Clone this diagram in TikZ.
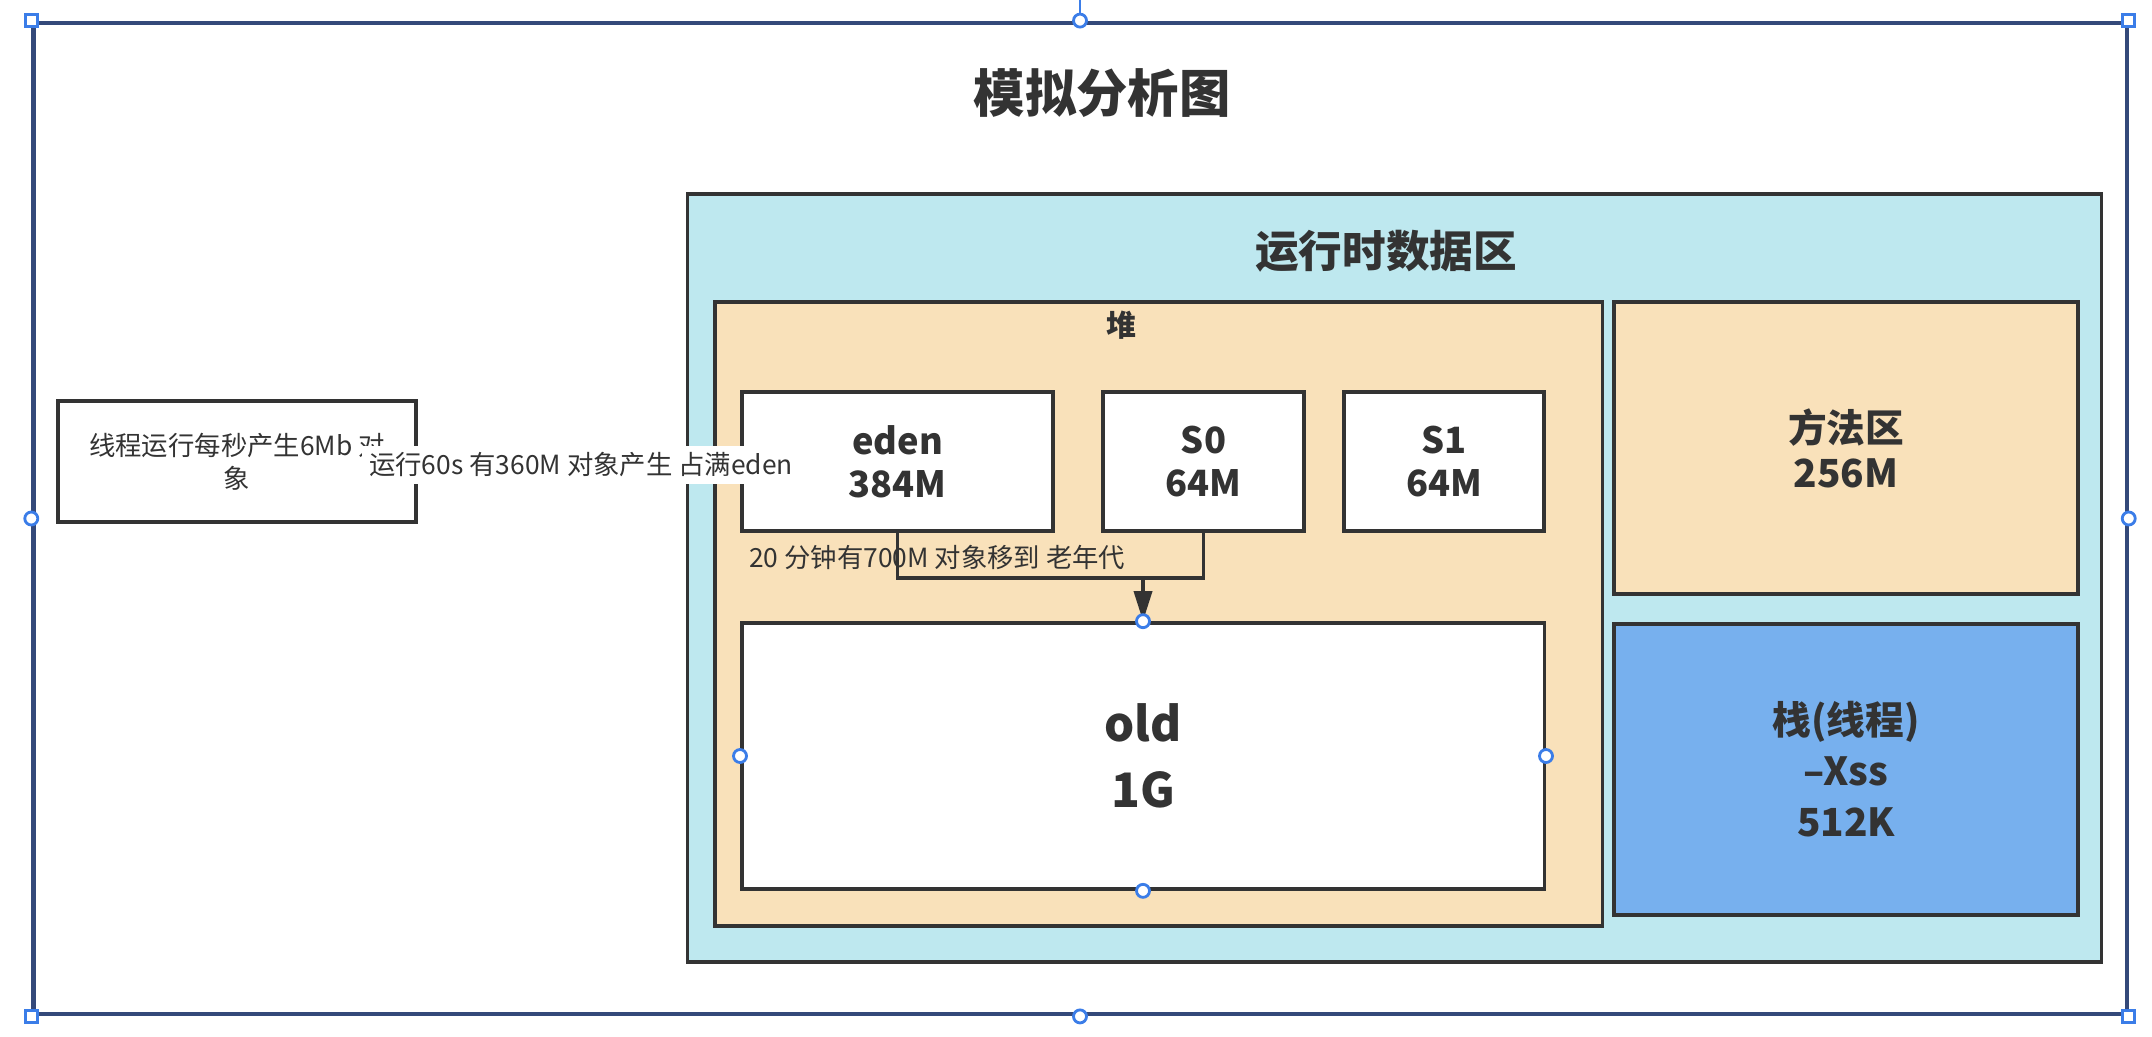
\documentclass[tikz,border=0pt]{standalone}
\usepackage{fontspec}
\setmainfont{Noto Sans CJK SC}
\usetikzlibrary{positioning, arrows.meta, calc}
\definecolor{inkgray}{HTML}{333333}
\definecolor{framenavy}{HTML}{34497A}
\definecolor{runcyan}{HTML}{BEE8EF}
\definecolor{heapsand}{HTML}{F9E1BA}
\definecolor{stackblue}{HTML}{77B0EE}
\definecolor{handleblue}{HTML}{3B7DE8}
\tikzset{
  area/.style={draw=inkgray, line width=1pt, inner sep=0pt, text=inkgray, align=center},
  membox/.style={area, fill=white, font=\bfseries\fontsize{10.3}{12.1}\selectfont},
  wire/.style={-{Triangle[length=0.3cm, width=0.18cm]}, draw=inkgray, line width=1pt},
  joint/.style={draw=inkgray, line width=1pt},
  note/.style={text=inkgray, inner sep=1pt, font=\fontsize{7.5}{9.4}\selectfont},
  sqhandle/.style={draw=handleblue, fill=white, line width=0.8pt, minimum size=0.12cm, inner sep=0pt},
  rdhandle/.style={draw=handleblue, fill=white, line width=0.8pt, circle, minimum size=0.13cm, inner sep=0pt}
}
\begin{document}
\begin{tikzpicture}[x=0.01cm, y=-0.01cm]
  \useasboundingbox (0,0) rectangle (2152,1036);
  % outer frame
  \draw[handleblue, line width=0.8pt] (1080,0) -- (1080,23);
  \node[draw=framenavy, line width=1.2pt, minimum width=20.92cm, minimum height=9.91cm] (frame) at (1080,518.5) {};
  \node[text=inkgray, font=\bfseries\fontsize{14.6}{17}\selectfont] (title) at (1102,93) {模拟分析图};

  % runtime data area
  \node[area, fill=runcyan, minimum width=14.13cm, minimum height=7.68cm] (runtime) at (1394.5,578) {};
  \node[text=inkgray, font=\bfseries\fontsize{12.4}{15}\selectfont] (runlabel) at (1386,251) {运行时数据区};

  % heap
  \node[area, fill=heapsand, minimum width=8.87cm, minimum height=6.24cm] (heap) at (1158.5,614) {};
  \node[text=inkgray, font=\bfseries\fontsize{8.5}{10}\selectfont] (heaplabel) at (1121,325) {堆};
  \node[membox, minimum width=3.11cm, minimum height=1.39cm] (eden) at (897.5,461.5) {eden\\384M};
  \node[membox, minimum width=2.01cm, minimum height=1.39cm] (s0) at (1203.5,461.5) {S0\\64M};
  \node[membox, minimum width=2.00cm, minimum height=1.39cm] (s1) at (1444,461.5) {S1\\64M};
  \node[membox, minimum width=8.02cm, minimum height=2.66cm, font=\bfseries\fontsize{13.5}{18.8}\selectfont] (old) at (1143,756) {old\\1G};

  % method area and stack
  \node[area, fill=heapsand, minimum width=4.64cm, minimum height=2.92cm, font=\bfseries\fontsize{11}{12.8}\selectfont] (method) at (1846,448) {方法区\\256M};
  \node[area, fill=stackblue, minimum width=4.64cm, minimum height=2.91cm, font=\bfseries\fontsize{11}{14.5}\selectfont] (stack) at (1846,769.5) {栈(线程)\\--Xss\\512K};

  % thread
  \node[area, fill=white, minimum width=3.58cm, minimum height=1.21cm, font=\fontsize{7.5}{9.4}\selectfont] (thread) at (237,461.5) {线程运行每秒产生6Mb 对\\象};
  \node[note, fill=white, inner sep=2pt] (fill) at (581,465) {运行60s 有360M 对象产生 占满eden};

  % promotion to old
  \node[note, anchor=west] (promote) at (745,557) {20 分钟有700M 对象移到 老年代};
  \coordinate (split) at (1143,578);
  \draw[joint] (eden.south) |- (split);
  \draw[joint] (s0.south) |- (split);
  \draw[wire] (split) -- (old.north);

  % selection handles
  \foreach \c in {frame.north west, frame.north east, frame.south west, frame.south east}
    \node[sqhandle] at (\c) {};
  \foreach \c in {frame.north, frame.south, frame.west, frame.east, old.north, old.south, old.west, old.east}
    \node[rdhandle] at (\c) {};
\end{tikzpicture}
\end{document}
